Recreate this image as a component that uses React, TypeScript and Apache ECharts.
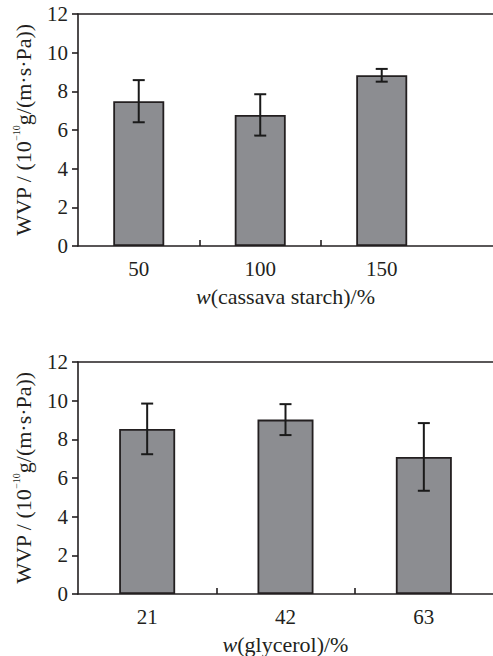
import React, { useEffect, useRef } from "react";
import * as echarts from "echarts";

const starchCats = ["50", "100", "150"];
const starchWVP = [7.49, 6.78, 8.83];
const starchErr = [1.09, 1.07, 0.33];

const glycerolCats = ["21", "42", "63"];
const glycerolWVP = [8.54, 9.02, 7.09];
const glycerolErr = [1.31, 0.8, 1.75];

const FONT = "Liberation Serif";
const INK = "#231f20";
const BAR = "#8c8d91";

function buildOption() {
  const grids = [
    { left: 78, top: 14, right: 0, height: 232 },
    { left: 78, top: 362, right: 0, height: 232 },
  ];
  const sets = [
    { cats: starchCats, vals: starchWVP, err: starchErr, max: 3.416, barWidth: 51, name: "(cassava starch)/%" },
    { cats: glycerolCats, vals: glycerolWVP, err: glycerolErr, max: 3.0, barWidth: 56, name: "(glycerol)/%" },
  ];
  const xAxis: any[] = [];
  const yAxis: any[] = [];
  const series: any[] = [];
  sets.forEach((s, g) => {
    const centers = s.cats.map((_, i) => i + 0.5);
    const bounds = s.cats.slice(1).map((_, i) => i + 1);
    xAxis.push({
      type: "value",
      gridIndex: g,
      min: 0,
      max: s.max,
      position: "bottom",
      splitLine: { show: false },
      axisLine: { show: true, onZero: false, lineStyle: { color: INK, width: 1.6 } },
      axisTick: { show: true, inside: true, length: 6, customValues: bounds, lineStyle: { color: INK, width: 1.6 } },
      axisLabel: {
        show: true,
        customValues: centers,
        margin: 12,
        color: INK,
        fontFamily: FONT,
        fontSize: 21,
        formatter: (v: number) => s.cats[Math.floor(v)] ?? "",
      },
      name: "{i|w}" + s.name,
      nameLocation: "middle",
      nameGap: 39,
      nameTextStyle: {
        color: INK,
        fontFamily: FONT,
        fontSize: 22,
        rich: { i: { fontStyle: "italic", fontFamily: FONT, fontSize: 22, color: INK } },
      },
    });
    xAxis.push({
      type: "value",
      gridIndex: g,
      min: 0,
      max: s.max,
      position: "top",
      splitLine: { show: false },
      axisLine: { show: true, onZero: false, lineStyle: { color: INK, width: 1.6 } },
      axisTick: { show: false },
      axisLabel: { show: false },
    });
    yAxis.push({
      type: "value",
      gridIndex: g,
      min: 0,
      max: 12,
      interval: 2,
      splitLine: { show: false },
      axisLine: { show: true, lineStyle: { color: INK, width: 1.6 } },
      axisTick: { show: true, length: 6, lineStyle: { color: INK, width: 1.6 } },
      axisLabel: { color: INK, fontFamily: FONT, fontSize: 21, margin: 10 },
      name: "WVP / (10{sup|−10}g/(m·s·Pa))",
      nameLocation: "middle",
      nameRotate: 90,
      nameGap: 43,
      nameTextStyle: {
        color: INK,
        fontFamily: FONT,
        fontSize: 22,
        rich: {
          sup: { fontSize: 10, fontFamily: FONT, color: INK, verticalAlign: "top", lineHeight: 24 },
        },
      },
    });
    series.push({
      type: "bar",
      xAxisIndex: g * 2,
      yAxisIndex: g,
      barWidth: s.barWidth,
      itemStyle: { color: BAR, borderColor: INK, borderWidth: 1.8 },
      data: s.vals.map((v, i) => [centers[i], v]),
      z: 2,
    });
    series.push({
      type: "custom",
      xAxisIndex: g * 2,
      yAxisIndex: g,
      z: 5,
      data: s.vals.map((v, i) => [centers[i], v - s.err[i], v + s.err[i]]),
      renderItem: (params: any, api: any) => {
        const x = api.value(0);
        const lo = api.coord([x, api.value(1)]);
        const hi = api.coord([x, api.value(2)]);
        const w = 6;
        const st = { stroke: "#1a1a1a", lineWidth: 2 };
        return {
          type: "group",
          children: [
            { type: "line", shape: { x1: hi[0], y1: hi[1], x2: lo[0], y2: lo[1] }, style: st },
            { type: "line", shape: { x1: hi[0] - w, y1: hi[1], x2: hi[0] + w, y2: hi[1] }, style: st },
            { type: "line", shape: { x1: lo[0] - w, y1: lo[1], x2: lo[0] + w, y2: lo[1] }, style: st },
          ],
        };
      },
    });
  });
  return {
    animation: false,
    backgroundColor: "#ffffff",
    grid: grids,
    xAxis,
    yAxis,
    series,
  };
}

export default function App() {
  const ref = useRef<HTMLDivElement>(null);
  useEffect(() => {
    if (!ref.current) return;
    const chart = echarts.init(ref.current, undefined, { renderer: "svg" });
    chart.setOption(buildOption() as any);
    return () => chart.dispose();
  }, []);
  return (
    <div
      ref={ref}
      style={{ position: "fixed", left: 0, top: 0, width: 493, height: 656, background: "#fff" }}
    />
  );
}
